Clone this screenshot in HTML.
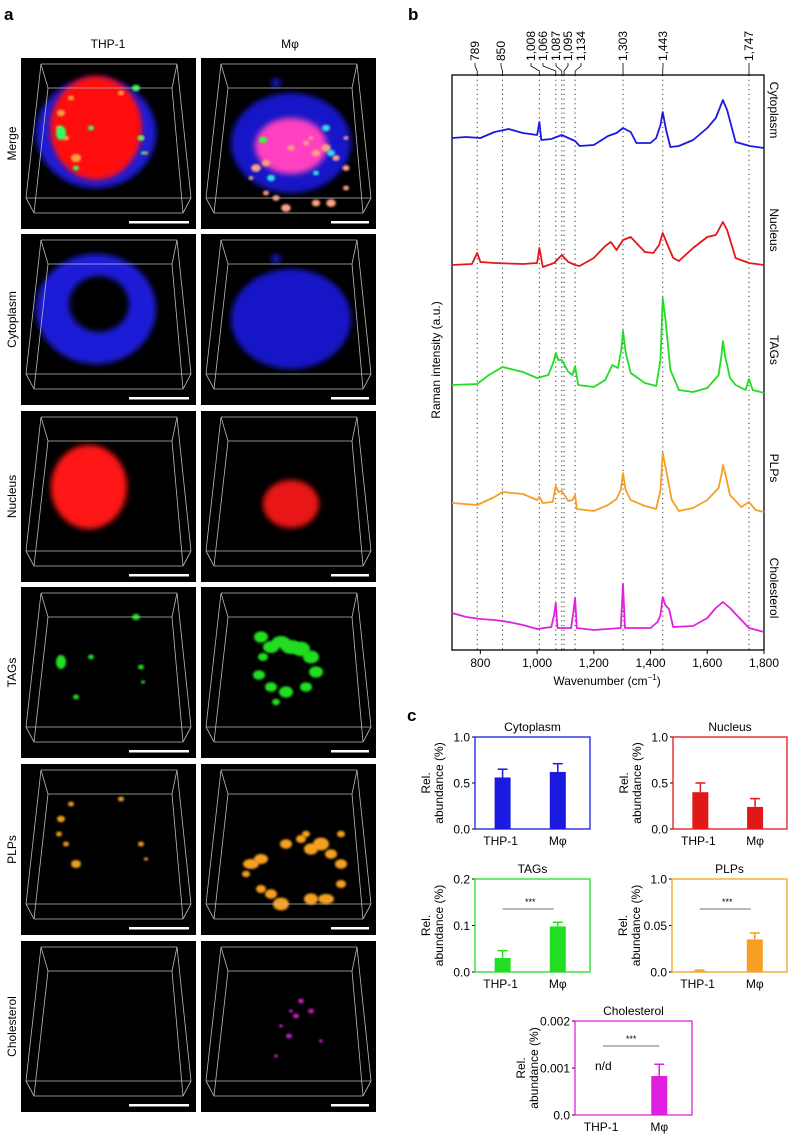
<!DOCTYPE html>
<html><head><meta charset="utf-8">
<style>
html,body{margin:0;padding:0;background:#fff;}
svg{display:block;font-family:"Liberation Sans",Arial,sans-serif;}
</style></head>
<body>
<svg id="fig" width="788" height="1135" viewBox="0 0 788 1135" xmlns="http://www.w3.org/2000/svg">
<defs>
<filter id="bl" x="-20%" y="-20%" width="140%" height="140%"><feGaussianBlur stdDeviation="3"/></filter>
<filter id="bl1" x="-20%" y="-20%" width="140%" height="140%"><feGaussianBlur stdDeviation="1"/></filter>
</defs>
<text x="4" y="20" font-size="17" font-weight="bold">a</text>
<text x="408" y="20" font-size="17" font-weight="bold">b</text>
<text x="407" y="721" font-size="17" font-weight="bold">c</text>
<text x="108" y="48" font-size="12" text-anchor="middle">THP-1</text>
<text x="290" y="48" font-size="12" text-anchor="middle">Mφ</text>
<g id="panelA"></g>
<g id="panelB"></g>
<g id="panelC"></g>
</svg>
<script>
const NS='http://www.w3.org/2000/svg';
function mk(tag,attrs,parent,txt){const e=document.createElementNS(NS,tag);for(const k in attrs)e.setAttribute(k,attrs[k]);if(txt!==undefined)e.textContent=txt;parent.appendChild(e);return e;}

/* ---------- Panel a: images ---------- */
const rowNames=['Merge','Cytoplasm','Nucleus','TAGs','PLPs','Cholesterol'];
const A=document.getElementById('panelA');
const colX=[21,201], rowY=[58,234,411,587,764,941], TW=175, TH=171;
const wire=[[20,6,156,6],[27,30,151,30],[5,140,170,140],[13,155,162,155],[20,6,5,140],[156,6,170,140],[27,30,13,155],[151,30,162,155],[20,6,27,30],[156,6,151,30],[5,140,13,155],[170,140,162,155]];
function blob(g,cx,cy,rx,ry,col,f,op){mk('ellipse',{cx:cx,cy:cy,rx:rx,ry:ry,fill:col,filter:f||'url(#bl)',opacity:op||1},g);}
function spots(g,list,col){list.forEach(p=>blob(g,p[0],p[1],p[2],p[3]||p[2]*0.8,col,'url(#bl1)'));}
const orangeA=[[40,55,4],[45,80,3],[55,100,5],[50,40,3],[100,35,3],[120,80,3],[125,95,2],[38,70,3]];
const orangeB=[[50,100,8,5],[60,95,7,5],[85,80,6],[100,75,5],[110,85,7],[120,80,8],[130,90,6],[140,100,6],[140,120,5],[125,135,8,5],[110,135,7],[80,140,8],[70,130,6],[60,125,5],[45,110,4],[140,70,4],[105,70,4]];
const greenA=[[40,75,5,7],[70,70,3],[120,80,3],[122,95,2],[55,110,3],[115,30,4]];
const greenB=[[60,50,7],[70,60,8,6],[80,55,9,6],[90,60,10,7],[100,62,9],[110,70,8],[115,85,7],[105,100,6],[85,105,7],[70,100,6],[58,88,6],[62,70,5],[75,115,4]];
const magB=[[100,60,3],[110,70,3],[95,75,3],[90,70,2],[80,85,2],[88,95,3],[120,100,2],[75,115,2]];
rowNames.forEach((nm,r)=>{
  const lbl=mk('text',{x:0,y:0,'font-size':12,'text-anchor':'middle',transform:`translate(16,${rowY[r]+TH/2}) rotate(-90)`},A,nm);
  
  
  colX.forEach((cx0,c)=>{
    const g=mk('g',{transform:`translate(${cx0},${rowY[r]})`},A);
    
    
    mk('rect',{x:0,y:0,width:TW,height:TH,fill:'#000'},g);
    if(nm==='Merge'||nm==='Cytoplasm'){
      if(c===0){blob(g,75,75,60,55,'#1a1ad8');if(nm==='Cytoplasm')blob(g,78,70,30,28,'#000');}
      else{blob(g,90,85,60,50,'#1818c8');blob(g,75,25,5,5,'#1818c8');}
    }
    if(nm==='Merge'){
      if(c===0){blob(g,75,70,46,52,'#ff1010');spots(g,orangeA,'#ffa040');spots(g,greenA,'#30ff60');}
      else{blob(g,90,88,36,28,'#ff40c0');spots(g,orangeB.map(p=>[p[0]+5,p[1]+10,p[2]*0.6]),'#ffa080');spots(g,[[125,70,4],[130,95,4],[70,120,4],[115,115,3]],'#30e0e0');spots(g,[[62,82,4]],'#30ff30');}
    }
    if(nm==='Nucleus'){if(c===0)blob(g,68,76,38,42,'#ff1515');else blob(g,90,93,28,24,'#e81818');}
    if(nm==='TAGs'){if(c===0)spots(g,greenA,'#20e020');else spots(g,greenB,'#22dd22');}
    if(nm==='PLPs'){if(c===0)spots(g,orangeA,'#f0a020');else spots(g,orangeB,'#f5a023');}
    if(nm==='Cholesterol'&&c===1)spots(g,magB,'#c020c0');
    wire.forEach(w=>mk('line',{x1:w[0],y1:w[1],x2:w[2],y2:w[3],stroke:'#bbb','stroke-width':0.8},g));
    const sb=c===0?[108,168]:[130,168];
    mk('rect',{x:sb[0],y:163,width:sb[1]-sb[0],height:2.5,fill:'#fff'},g);
  });
});

/* ---------- Panel b: spectra ---------- */
const xTicks=[800,1000,1200,1400,1600,1800];
const xTickLabels=['800','1,000','1,200','1,400','1,600','1,800'];
const peakLabels=['789','850','1,008','1,066','1,087','1,095','1,134','1,303','1,443','1,747'];
const peakWn=[789,878,1008,1066,1087,1095,1134,1303,1443,1747];
const seriesNames=['Cytoplasm','Nucleus','TAGs','PLPs','Cholesterol'];
const seriesColors=['#1a1ae0','#e01818','#22dd22','#f5a023','#e020e0'];
const cytoWn=[700,750,800,850,900,950,1000,1008,1015,1050,1087,1110,1134,1150,1200,1250,1280,1303,1330,1350,1400,1420,1435,1443,1455,1470,1500,1550,1600,1630,1655,1670,1700,1750,1800];
const cytoI=[512,513,512,518,521,517,515,528,510,511,515,512,509,504,505,514,517,522,518,507,507,512,525,538,520,503,504,510,522,532,550,540,508,504,502];
const nucWn=[700,770,789,800,850,950,1000,1008,1020,1060,1087,1110,1134,1150,1200,1240,1260,1280,1303,1330,1360,1380,1410,1430,1443,1460,1480,1500,1550,1600,1630,1655,1670,1700,1747,1800];
const nucI=[385,386,397,388,387,386,387,402,383,387,395,388,385,384,392,404,408,400,410,413,404,398,397,405,417,405,392,389,402,413,415,428,420,392,387,385];
const tagWn=[700,789,830,878,950,1000,1040,1058,1066,1075,1087,1110,1125,1134,1145,1200,1240,1265,1285,1297,1303,1312,1330,1380,1420,1435,1443,1452,1470,1500,1550,1600,1640,1650,1655,1662,1680,1700,1735,1747,1760,1800];
const tagI=[265,266,275,283,278,272,275,288,297,290,290,278,275,284,265,263,270,285,282,300,319,298,277,267,264,290,352,332,280,260,258,262,275,295,309,295,272,265,260,271,260,257];
const plpWn=[700,789,850,878,950,1000,1008,1020,1055,1066,1075,1087,1110,1125,1134,1140,1200,1250,1280,1295,1303,1312,1330,1380,1420,1435,1443,1455,1475,1500,1550,1600,1640,1650,1655,1662,1680,1720,1747,1770,1800];
const plpI=[147,145,153,158,156,150,153,147,148,164,158,159,149,150,155,141,139,145,151,160,177,160,150,144,141,160,197,180,150,139,142,150,162,175,185,178,155,143,148,140,138];
const cholWn=[700,750,800,850,900,950,1000,1050,1060,1066,1072,1120,1128,1134,1140,1200,1295,1303,1310,1400,1425,1435,1443,1452,1465,1480,1550,1600,1630,1655,1680,1700,1747,1800];
const cholI=[37,33,31,30,28,25,21,23,35,47,22,22,38,52,22,20,22,66,22,22,28,35,53,45,41,23,24,32,42,48,42,36,22,18];
const seriesWn=[cytoWn,nucWn,tagWn,plpWn,cholWn];
const seriesI=[cytoI,nucI,tagI,plpI,cholI];

const B=document.getElementById('panelB');
const bx0=452,bx1=764,by0=75,by1=650;
const xs=w=>bx0+(w-700)/(1800-700)*(bx1-bx0);
const ys=v=>by1-v/575*(by1-by0);
peakWn.forEach((w,i)=>{
  const l=mk('line',{x1:xs(w),y1:by0,x2:xs(w),y2:by1,stroke:'#333','stroke-width':1,'stroke-dasharray':'1.2,3.5'},B);
  
  
});
const labelX=[475,501,531,543,556,568,581,623,663,749];
peakWn.forEach((w,i)=>{
  const lx=labelX[i];
  const t=mk('text',{x:0,y:0,'font-size':12,'text-anchor':'start',transform:`translate(${lx+4},61) rotate(-90)`},B,peakLabels[i]);
  
  
  mk('polyline',{points:`${lx},63 ${lx},66 ${xs(w)},71 ${xs(w)},75`,fill:'none',stroke:'#000','stroke-width':0.8},B);
});
mk('rect',{x:bx0,y:by0,width:bx1-bx0,height:by1-by0,fill:'none',stroke:'#000','stroke-width':1.3},B);
xTicks.forEach((t,i)=>{
  mk('line',{x1:xs(t),y1:by1,x2:xs(t),y2:by1+4,stroke:'#000'},B);
  const tl=mk('text',{x:xs(t),y:by1+17,'font-size':12,'text-anchor':'middle'},B,xTickLabels[i]);
  
  
});
const xt=mk('text',{x:607,y:by1+35,'font-size':12,'text-anchor':'middle'},B);


xt.innerHTML='Wavenumber (cm<tspan dy="-5" font-size="8">−1</tspan><tspan dy="5">)</tspan>';
const yt=mk('text',{x:0,y:0,'font-size':12,'text-anchor':'middle',transform:'translate(440,360) rotate(-90)'},B,'Raman intensity (a.u.)');


const rightLabelY=[110,230,350,468,588];
seriesNames.forEach((nm,s)=>{
  const pts=seriesWn[s].map((w,i)=>xs(w).toFixed(1)+','+ys(seriesI[s][i]).toFixed(1)).join(' ');
  const pl=mk('polyline',{points:pts,fill:'none',stroke:seriesColors[s],'stroke-width':1.8,'stroke-linejoin':'round'},B);
  
  
  const rl=mk('text',{x:0,y:0,'font-size':12,'text-anchor':'middle',transform:`translate(770,${rightLabelY[s]}) rotate(90)`},B,nm);
  
  
});

/* ---------- Panel c: bar charts ---------- */
const groups=['THP-1','Mφ'];
const chartTitles=['Cytoplasm','Nucleus','TAGs','PLPs','Cholesterol'];
const chartMax=[1.0,1.0,0.2,0.1,0.002];
const tickLabelsC=[['0.0','0.5','1.0'],['0.0','0.5','1.0'],['0.0','0.1','0.2'],['0.0','0.05','1.0'],['0.0','0.001','0.002']];
const meansCyto=[0.56,0.62], errCyto=[0.09,0.09];
const meansNuc=[0.40,0.24], errNuc=[0.10,0.09];
const meansTag=[0.030,0.098], errTag=[0.016,0.009];
const meansPlp=[0.001,0.035], errPlp=[0.001,0.007];
const meansChol=[0,0.00083], errChol=[0,0.00025];
const allMeans=[meansCyto,meansNuc,meansTag,meansPlp,meansChol];
const allErr=[errCyto,errNuc,errTag,errPlp,errChol];
const boxes=[[475,737,115,92],[673,737,114,92],[475,879,115,93],[672,879,115,93],[575,1021,117,94]];
const C=document.getElementById('panelC');
chartTitles.forEach((nm,k)=>{
  const [x0,y0,w,h]=boxes[k], col=seriesColors[k];
  const g=mk('g',{},C);
  
  
  const yv=v=>y0+h-v/chartMax[k]*h;
  const tt=mk('text',{x:x0+w/2,y:y0-6,'font-size':12,'text-anchor':'middle'},g,nm);
  
  
  tickLabelsC[k].forEach((lab,i)=>{
    const y=y0+h-i*h/2;
    mk('line',{x1:x0-3,y1:y,x2:x0,y2:y,stroke:'#000'},g);
    const tl=mk('text',{x:x0-5,y:y+4.5,'font-size':12,'text-anchor':'end'},g,lab);
    
    
  });
  const yl=mk('text',{x:0,y:0,'font-size':12,'text-anchor':'middle',transform:`translate(${x0-(k===4?50:45)},${y0+h/2}) rotate(-90)`},g);
  
  
  yl.innerHTML=`<tspan x="0" dy="0">Rel.</tspan><tspan x="0" dy="13">abundance (%)</tspan>`;
  const cx=[x0+w*0.24,x0+w*0.72];
  groups.forEach((gn,i)=>{
    const m=allMeans[k][i], e=allErr[k][i];
    if(m>0){
      const b=mk('rect',{x:cx[i]-8,y:yv(m),width:16,height:y0+h-yv(m),fill:col},g);
      
      
      mk('line',{x1:cx[i],y1:yv(m),x2:cx[i],y2:yv(m+e),stroke:col,'stroke-width':1.5},g);
      mk('line',{x1:cx[i]-5,y1:yv(m+e),x2:cx[i]+5,y2:yv(m+e),stroke:col,'stroke-width':1.5},g);
    }
    const xl=mk('text',{x:cx[i]-(i?0:2),y:y0+h+16,'font-size':12,'text-anchor':'middle'},g,gn);
    
    
  });
  mk('rect',{x:x0,y:y0,width:w,height:h,fill:'none',stroke:col,'stroke-width':1.3},g);
  if(k>=2){
    const sy=k===4?y0+25:y0+30;
    mk('line',{x1:cx[0],y1:sy,x2:cx[1]+(k===4?0:-4),y2:sy,stroke:'#444','stroke-width':0.8},g);
    const st=mk('text',{x:(cx[0]+cx[1])/2,y:sy-4,'font-size':9,'text-anchor':'middle'},g,'***');
    
    
  }
  if(k===4){
    const nd=mk('text',{x:x0+20,y:y0+h/2+2,'font-size':12},g,'n/d');
    
    
  }
});
</script>
</body></html>
